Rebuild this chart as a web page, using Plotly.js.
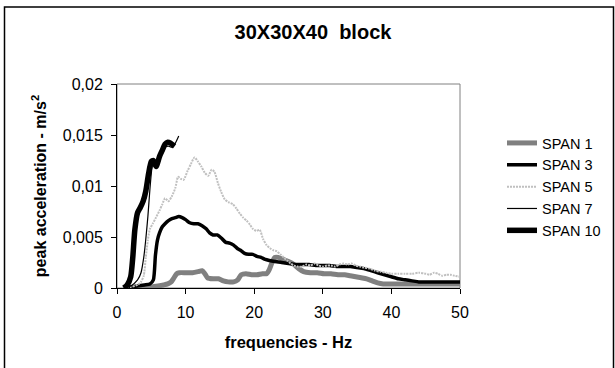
<!DOCTYPE html>
<html>
<head>
<meta charset="utf-8">
<script src="https://cdn.plot.ly/plotly-3.0.1.min.js"></script>
<style>html,body{margin:0;padding:0;background:#fff}#chart{width:615px;height:368px}</style>
</head>
<body>
<div id="chart"></div>
<script>
// ---- data ----
const seriesNames = ["SPAN 1", "SPAN 3", "SPAN 5", "SPAN 7", "SPAN 10"];

const span1X = [1, 3, 5, 6, 6.8, 7.4, 7.9, 8.3, 8.7, 9.1, 10, 11, 11.8, 12.4, 12.8, 13.2, 14, 14.8, 15.5, 16.2, 17, 17.6, 18.1, 18.8, 19.6, 20.4, 21.2, 21.8, 22.2, 22.6, 23, 23.5, 24.2, 25, 25.8, 26.5, 27.2, 28.2, 29.2, 30.2, 31.2, 32.2, 33.2, 34, 34.8, 35.6, 36.4, 37.2, 38, 38.8, 40, 42, 44, 46, 48, 50];
const span1Y = [0, 0, 0.0001, 0.0002, 0.0003, 0.0004, 0.0006, 0.001, 0.0014, 0.0015, 0.0015, 0.0015, 0.0016, 0.0017, 0.0014, 0.001, 0.0009, 0.0009, 0.0007, 0.0006, 0.0006, 0.0008, 0.0013, 0.0014, 0.0013, 0.0013, 0.0014, 0.0014, 0.0018, 0.0025, 0.003, 0.003, 0.0028, 0.0026, 0.0023, 0.0019, 0.0016, 0.0015, 0.0015, 0.0014, 0.0014, 0.0013, 0.0013, 0.0012, 0.0011, 0.001, 0.0009, 0.0007, 0.0005, 0.0004, 0.0004, 0.0004, 0.0004, 0.0004, 0.0004, 0.0004];

const span3X = [1, 2, 3, 4, 4.8, 5.3, 5.6, 5.9, 6.2, 6.6, 7, 7.5, 8, 8.5, 9, 9.5, 10, 10.6, 11.2, 11.8, 12.4, 13, 13.5, 14, 14.6, 15.2, 15.8, 16.4, 17, 17.5, 18, 18.6, 19.2, 19.8, 20.4, 21, 21.6, 22.2, 23, 24, 25, 26, 27, 28, 29, 30, 31, 32, 33, 34, 35, 36, 37, 38, 39, 40, 41, 42, 43, 44, 45, 46, 47, 48, 49, 50];
const span3Y = [0, 0.0001, 0.0002, 0.0003, 0.0004, 0.0008, 0.0032, 0.0047, 0.0054, 0.006, 0.0063, 0.0066, 0.0068, 0.0069, 0.007, 0.0069, 0.0067, 0.0064, 0.0063, 0.0063, 0.0061, 0.0058, 0.0054, 0.0052, 0.0052, 0.0049, 0.0045, 0.0044, 0.0042, 0.0039, 0.0037, 0.0034, 0.0033, 0.0033, 0.0031, 0.003, 0.0028, 0.0027, 0.0026, 0.0025, 0.0024, 0.0023, 0.0023, 0.0023, 0.0022, 0.0022, 0.0022, 0.0021, 0.0021, 0.0021, 0.002, 0.0019, 0.0017, 0.0015, 0.0013, 0.0011, 0.0009, 0.0008, 0.0007, 0.0006, 0.0006, 0.0006, 0.0006, 0.0006, 0.0006, 0.0006];

const span5X = [1, 2, 3, 3.5, 3.9, 4.2, 4.5, 4.8, 5.2, 5.6, 6.2, 6.6, 7, 7.5, 8, 8.5, 8.9, 9.3, 9.7, 10.3, 10.8, 11.3, 11.8, 12.3, 12.8, 13.3, 13.8, 14.2, 14.7, 15.2, 15.7, 16.3, 16.9, 17.4, 17.9, 18.4, 18.9, 19.4, 19.8, 20.3, 20.8, 21.3, 21.8, 22.3, 22.8, 23.3, 23.8, 24.3, 24.8, 25.3, 25.8, 26.3, 27, 27.6, 28.2, 28.8, 29.4, 30, 30.6, 31.2, 31.8, 32.4, 33, 33.6, 34.2, 34.8, 35.4, 36, 36.8, 37.6, 38.4, 39.2, 40, 41, 42, 43, 44, 45, 45.6, 46.2, 46.8, 47.4, 48, 48.6, 49.2, 50];
const span5Y = [0, 0.0001, 0.0003, 0.0006, 0.0012, 0.003, 0.0047, 0.0058, 0.0063, 0.0068, 0.0076, 0.0082, 0.0088, 0.0085, 0.009, 0.0098, 0.0109, 0.0107, 0.0106, 0.0115, 0.0122, 0.0128, 0.0124, 0.0119, 0.0113, 0.011, 0.0116, 0.0114, 0.0103, 0.0094, 0.0087, 0.0084, 0.0082, 0.0078, 0.0073, 0.0069, 0.0066, 0.0062, 0.0058, 0.0056, 0.0057, 0.0048, 0.0042, 0.0039, 0.0037, 0.0036, 0.0033, 0.003, 0.0027, 0.0024, 0.0022, 0.0021, 0.0021, 0.0023, 0.0022, 0.0024, 0.0022, 0.0021, 0.0022, 0.0022, 0.0021, 0.0023, 0.0024, 0.0023, 0.0024, 0.0022, 0.0021, 0.002, 0.0019, 0.0017, 0.0016, 0.0015, 0.0014, 0.0014, 0.0014, 0.0014, 0.0015, 0.0014, 0.0013, 0.0015, 0.0014, 0.0012, 0.0013, 0.0013, 0.0012, 0.0011];

const span7X = [1, 2, 3, 3.5, 3.9, 4.2, 4.5, 4.8, 5.1, 5.4, 5.8, 6.2, 6.6, 7, 7.5, 8, 8.5, 9];
const span7Y = [0, 0.0002, 0.0008, 0.0015, 0.003, 0.0048, 0.007, 0.0097, 0.0118, 0.0125, 0.012, 0.0127, 0.0133, 0.0138, 0.0139, 0.0138, 0.0142, 0.0149];

const span10X = [1, 1.5, 2, 2.3, 2.6, 3, 3.4, 3.8, 4.2, 4.6, 5, 5.3, 5.7, 6.2, 6.6, 7, 7.4, 7.8, 8.2, 8.4];
const span10Y = [0, 0.0003, 0.0011, 0.003, 0.0057, 0.0074, 0.0079, 0.0085, 0.0095, 0.0112, 0.0124, 0.0125, 0.0119, 0.0129, 0.0135, 0.0141, 0.0143, 0.0142, 0.014, 0.0139];

const xTickVals = [0, 10, 20, 30, 40, 50];
const xTickText = ["0", "10", "20", "30", "40", "50"];
const yTickVals = [0, 0.005, 0.01, 0.015, 0.02];
const yTickText = ["0", "0,005", "0,01", "0,015", "0,02"];

// ---- styles ----
const FONT = "'Liberation Sans', Arial, sans-serif";
const styles = [
  {color: "#808080", width: 5, dash: "solid"},
  {color: "#000000", width: 3.5, dash: "solid"},
  {color: "#c0c0c0", width: 2, dash: "2px,1px"},
  {color: "#000000", width: 1.2, dash: "solid"},
  {color: "#000000", width: 5.5, dash: "solid"}
];
const xs = [span1X, span3X, span5X, span7X, span10X];
const ys = [span1Y, span3Y, span5Y, span7Y, span10Y];

const traces = seriesNames.map((n, i) => ({
  type: "scatter", mode: "lines", name: n,
  x: xs[i], y: ys[i],
  line: {color: styles[i].color, width: styles[i].width, dash: styles[i].dash, shape: "spline", smoothing: 0.6}
}));

const W = 615, H = 368;
const L = 117, R = 155, T = 84, B = 80;
const pw = W - L - R, ph = H - T - B;
const px = v => (v - L) / pw;
const py = v => (H - B - v) / ph;

const layout = {
  width: W, height: H,
  margin: {l: L, r: R, t: T, b: B, pad: 0},
  paper_bgcolor: "#ffffff", plot_bgcolor: "#ffffff",
  font: {family: FONT, color: "#000000", size: 16},
  title: {text: "<b>30X30X40  block</b>", font: {family: FONT, size: 20, color: "#000"},
          x: 313 / W, xanchor: "center", y: 1 - 32 / H, yanchor: "middle", xref: "container", yref: "container"},
  xaxis: {
    range: [0, 50], tickvals: xTickVals, ticktext: xTickText,
    showgrid: false, zeroline: false, showline: true, linecolor: "#000", linewidth: 1,
    ticks: "outside", ticklen: 5, tickcolor: "#000", tickfont: {size: 16}, ticklabelstandoff: 5,
    title: {text: "<b>frequencies - Hz</b>", font: {size: 16.5}, standoff: 16}
  },
  yaxis: {
    range: [0, 0.02], tickvals: yTickVals, ticktext: yTickText,
    showgrid: false, zeroline: false, showline: true, linecolor: "#000", linewidth: 1,
    ticks: "outside", ticklen: 5, tickcolor: "#000", tickfont: {size: 16}, ticklabelstandoff: 5,
    title: {text: "<b>peak acceleration - m/s<sup>2</sup></b>", font: {size: 16}, standoff: 12}
  },
  showlegend: true,
  legend: {xref: "container", yref: "container", x: 502 / W, xanchor: "left", y: 1 - 127 / H, yanchor: "top",
           font: {size: 14.5, family: FONT}, bgcolor: "rgba(0,0,0,0)", borderwidth: 0,
           tracegroupgap: 0},
  shapes: [
    {type: "rect", xref: "paper", yref: "paper", x0: 0, x1: 1, y0: 0, y1: 1,
     line: {color: "#808080", width: 1}, layer: "below"},
    {type: "rect", xref: "paper", yref: "paper", x0: px(4.5), x1: px(613.5), y0: py(380), y1: py(7),
     line: {color: "#000000", width: 1.5}, layer: "below"}
  ]
};

Plotly.newPlot("chart", traces, layout, {staticPlot: true, displayModeBar: false});
</script>
</body>
</html>
